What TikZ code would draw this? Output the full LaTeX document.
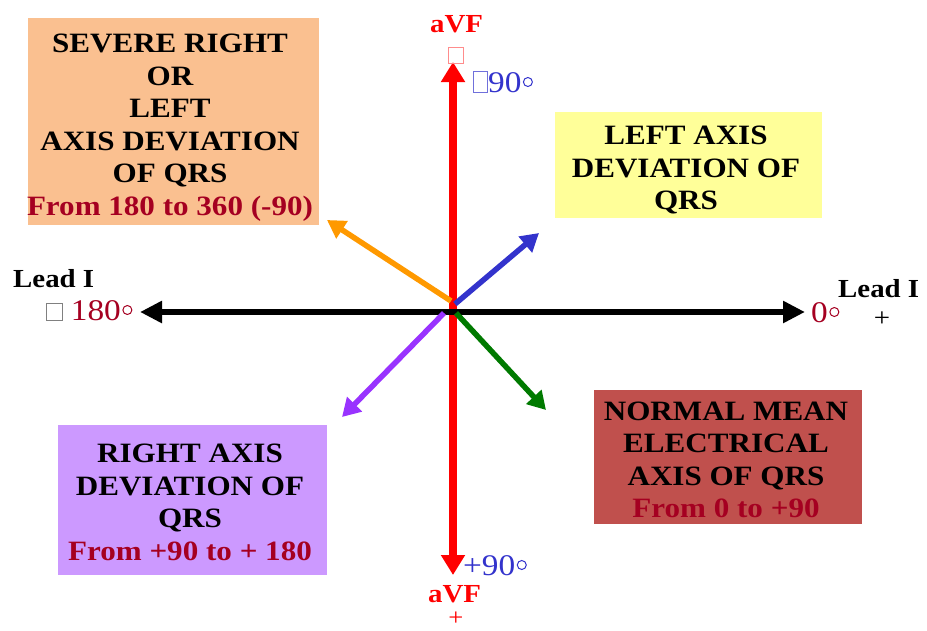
\documentclass[tikz,border=0pt]{standalone}
\usepackage{fontspec}
\setmainfont{Liberation Serif}[FakeStretch=1.11]
\usetikzlibrary{arrows.meta}
\definecolor{peach}{HTML}{FAC090}
\definecolor{lemon}{HTML}{FFFF99}
\definecolor{lilac}{HTML}{CC99FF}
\definecolor{brick}{HTML}{C0504D}
\definecolor{wine}{HTML}{A50021}
\definecolor{degblue}{HTML}{3333CC}
\definecolor{avfred}{HTML}{FF0000}
\definecolor{orng}{HTML}{FF9900}
\definecolor{purp}{HTML}{9933FF}
\definecolor{grn}{HTML}{007A00}
\newcommand\missbox[3]{{\color{#1}\setlength\fboxsep{0pt}\setlength\fboxrule{0.7pt}\framebox{\rule{0pt}{#3}\hspace{#2}}}}
\newcommand\dg[1]{\hspace{1.5pt}\raisebox{5pt}{\tikz\draw[#1, line width=1pt] (0,0) circle[radius=4.5pt];}}
\tikzset{
  panelbox/.style={inner sep=0pt},
  panel/.style={inner sep=0pt, align=center, font=\fontsize{28}{32.5}\selectfont\bfseries},
  lbl/.style={inner sep=0pt, anchor=base west},
  bold26/.style={font=\fontsize{26}{30}\selectfont\bfseries},
  deg30/.style={font=\fontsize{30}{34}\selectfont},
  bigarrow/.style={line width=7.5pt, {Triangle[width=23pt,length=20pt]}-{Triangle[width=23pt,length=20pt]}},
  diagarrow/.style={line width=5.5pt, -{Triangle[width=20pt,length=18pt]}},
}
\begin{document}
\begin{tikzpicture}[x=1pt,y=-1pt]
\useasboundingbox (0,0) rectangle (927,630);

% panels
\node[panelbox, fill=peach, minimum width=291pt, minimum height=207pt] (severe) at (173.5,121.5) {};
\node[panel] (severetxt) at (170,127.5)
  {SEVERE RIGHT\\OR\\LEFT\\AXIS DEVIATION\\OF QRS\\\textcolor{wine}{From 180 to 360 (-90)}};
\node[panelbox, fill=lemon, minimum width=267pt, minimum height=106pt] (leftdev) at (688.5,165) {};
\node[panel] (leftdevtxt) at (686,170) {LEFT AXIS\\DEVIATION OF\\QRS};
\node[panelbox, fill=lilac, minimum width=269pt, minimum height=150pt] (rightdev) at (192.5,500) {};
\node[panel] (rightdevtxt) at (190,502.5)
  {RIGHT AXIS\\DEVIATION OF\\QRS\\\textcolor{wine}{From +90 to + 180}};
\node[panelbox, fill=brick, minimum width=268pt, minimum height=134pt] (normal) at (728,457) {};
\node[panel] (normaltxt) at (726,460)
  {NORMAL MEAN\\ELECTRICAL\\AXIS OF QRS\\\textcolor{wine}{From 0 to +90}};

% axis end points
\coordinate (ctr) at (453,312);
\coordinate (vtop) at (453,62);
\coordinate (vbot) at (453,575);
\coordinate (hleft) at (140,312);
\coordinate (hright) at (805,312);
\coordinate (oS) at (451,301);
\coordinate (oE) at (327,220);
\coordinate (bS) at (455,304);
\coordinate (bE) at (539,233);
\coordinate (pS) at (444,313);
\coordinate (pE) at (342,417);
\coordinate (gS) at (456,313);
\coordinate (gE) at (546,410);

% arrows
\draw[bigarrow, avfred] (vbot) -- (vtop);
\draw[diagarrow, orng] (oS) -- (oE);
\draw[diagarrow, degblue] (bS) -- (bE);
\draw[line width=6pt, black, {Triangle[width=21pt,length=22pt]}-{Triangle[width=21pt,length=22pt]}] (hleft) -- (hright);
\draw[diagarrow, purp] (pS) -- (pE);
\draw[diagarrow, grn] (gS) -- (gE);

% labels
\node[lbl, bold26, text=avfred] (avftop) at (430,32) {aVF};
\node[inner sep=0pt] (boxtop) at (456,55) {\missbox{red!45}{14pt}{15pt}};
\node[lbl, deg30, text=degblue] (deg90top) at (473,92) {\missbox{degblue!70}{13.5pt}{20pt}90\dg{degblue}};
\node[lbl, bold26] (leadIleft) at (13,287) {Lead I};
\node[lbl, deg30, text=wine] (deg180) at (46,320) {\missbox{gray}{15pt}{16pt} 180\dg{wine}};
\node[lbl, deg30, text=wine] (deg0) at (811,322) {0\dg{wine}};
\node[lbl, bold26] (leadIright) at (838,297) {Lead I};
\node[font=\fontsize{26}{30}\selectfont, inner sep=0pt] (plusright) at (882,319) {+};
\node[lbl, deg30, text=degblue] (deg90bot) at (463,575) {+90\dg{degblue}};
\node[lbl, bold26, text=avfred] (avfbot) at (428,602) {aVF};
\node[font=\fontsize{24}{28}\selectfont, text=avfred, inner sep=0pt] (plusbot) at (456,619) {+};
\end{tikzpicture}
\end{document}
